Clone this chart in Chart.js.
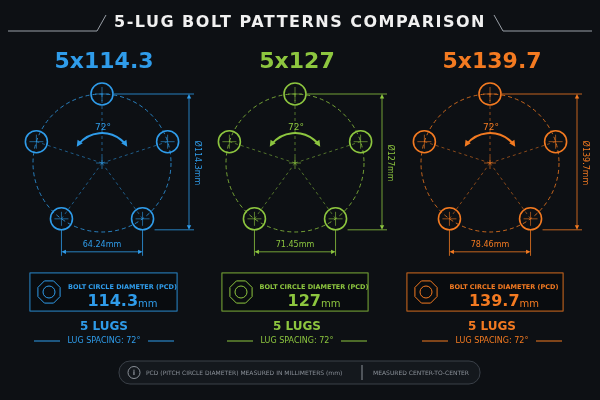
<!DOCTYPE html>
<html>
<head>
<meta charset="utf-8">
<script src="https://cdn.jsdelivr.net/npm/chart.js@4"></script>
<style>
  html, body { margin: 0; padding: 0; background: #0d1014; }
  canvas { display: block; }
</style>
</head>
<body>
<canvas id="chartjs-0" width="600" height="400"></canvas>
<script>
// pattern data
var patterns = ["5x114.3", "5x127", "5x139.7"];
var pcdValues = [114.3, 127, 139.7];
var chordValues = [64.24, 71.45, 78.46];
var lugCounts = [5, 5, 5];
var lugSpacing = [72, 72, 72];
var colors = ["#2f9cea", "#8dc63f", "#f37a21"];
var centerX = [102, 295, 490];

var CY = 163, R = 69;

// bolt centers follow the lug spacing around the drawn circle
function boltPoints(k) {
  var pts = [];
  for (var i = 0; i < lugCounts[k]; i++) {
    var a = (i * lugSpacing[k]) * Math.PI / 180;
    pts.push({ x: centerX[k] + R * Math.sin(a), y: CY - R * Math.cos(a) });
  }
  return pts;
}

var datasets = [];
for (var k = 0; k < 3; k++) {
  datasets.push({
    data: boltPoints(k),
    showLine: false,
    pointRadius: 11,
    pointBorderWidth: 1.6,
    pointBorderColor: colors[k],
    pointBackgroundColor: "rgba(0,0,0,0)"
  });
}

function arrow(ctx, x, y, ang, s) {
  ctx.beginPath();
  ctx.moveTo(x, y);
  ctx.lineTo(x - s * Math.cos(ang - 0.45), y - s * Math.sin(ang - 0.45));
  ctx.lineTo(x - s * Math.cos(ang + 0.45), y - s * Math.sin(ang + 0.45));
  ctx.closePath();
  ctx.fill();
}

var diagram = {
  id: "diagram",
  beforeDatasetsDraw: function (chart) {
    var ctx = chart.ctx, sx = chart.scales.x, sy = chart.scales.y;
    var px = function (v) { return sx.getPixelForValue(v); };
    var py = function (v) { return sy.getPixelForValue(v); };
    ctx.save();
    // header
    ctx.fillStyle = "#f0f0f0";
    ctx.font = "bold 16px 'DejaVu Sans'";
    ctx.textAlign = "center";
    ctx.textBaseline = "middle";
    if (ctx.letterSpacing !== undefined) ctx.letterSpacing = "1.5px";
    ctx.fillText("5-LUG BOLT PATTERNS COMPARISON", 300, 23);
    ctx.letterSpacing = "0px";
    ctx.strokeStyle = "#9aa0a8";
    ctx.lineWidth = 1;
    ctx.beginPath();
    ctx.moveTo(8, 31); ctx.lineTo(97, 31); ctx.lineTo(106, 15);
    ctx.moveTo(592, 31); ctx.lineTo(503, 31); ctx.lineTo(494, 15);
    ctx.stroke();

    for (var k = 0; k < 3; k++) {
      var c = colors[k], cx = px(centerX[k]), cy = py(CY);
      var pts = chart.getDatasetMeta(k).data;
      ctx.strokeStyle = c; ctx.fillStyle = c;
      // title
      ctx.font = "bold 22px 'DejaVu Sans'";
      ctx.fillText(patterns[k], cx + 2, 62);
      // dashed bolt circle
      ctx.globalAlpha = 0.8;
      ctx.setLineDash([4, 3]);
      ctx.lineWidth = 1;
      ctx.beginPath(); ctx.arc(cx, cy, R, 0, Math.PI * 2); ctx.stroke();
      // spokes
      ctx.globalAlpha = 0.55;
      ctx.setLineDash([3, 3]);
      ctx.beginPath();
      pts.forEach(function (p) { ctx.moveTo(cx, cy); ctx.lineTo(p.x, p.y); });
      ctx.stroke();
      ctx.setLineDash([]);
      // crosshairs
      ctx.globalAlpha = 0.6;
      ctx.beginPath();
      pts.forEach(function (p) {
        ctx.moveTo(p.x - 7, p.y); ctx.lineTo(p.x + 7, p.y);
        ctx.moveTo(p.x, p.y - 7); ctx.lineTo(p.x, p.y + 7);
      });
      ctx.moveTo(cx - 6, cy); ctx.lineTo(cx + 6, cy);
      ctx.moveTo(cx, cy - 6); ctx.lineTo(cx, cy + 6);
      ctx.stroke();
      ctx.globalAlpha = 1;
      // 72 degree arc
      ctx.lineWidth = 2;
      var a0 = -Math.PI / 2 - 1.0, a1 = -Math.PI / 2 + 1.0, ar = 30;
      ctx.beginPath(); ctx.arc(cx, cy, ar, a0 + 0.12, a1 - 0.12); ctx.stroke();
      arrow(ctx, cx + ar * Math.cos(a0), cy + ar * Math.sin(a0), a0 - Math.PI / 2, 7);
      arrow(ctx, cx + ar * Math.cos(a1), cy + ar * Math.sin(a1), a1 + Math.PI / 2, 7);
      ctx.font = "9px 'DejaVu Sans'";
      ctx.fillText(lugSpacing[k] + "°", cx + 1, cy - 35);
      // vertical dimension (PCD)
      ctx.lineWidth = 0.8;
      var top = pts[0], br = pts[2], bl = pts[3], dx = cx + 87;
      ctx.beginPath();
      ctx.moveTo(top.x + 12, top.y); ctx.lineTo(dx + 5, top.y);
      ctx.moveTo(br.x + 12, br.y + 11); ctx.lineTo(dx + 5, br.y + 11);
      ctx.moveTo(dx, top.y + 4); ctx.lineTo(dx, br.y + 7);
      ctx.stroke();
      arrow(ctx, dx, top.y, -Math.PI / 2, 5);
      arrow(ctx, dx, br.y + 11, Math.PI / 2, 5);
      ctx.save();
      ctx.translate(dx + 8, cy);
      ctx.rotate(Math.PI / 2);
      ctx.font = "8px 'DejaVu Sans'";
      ctx.fillText("Ø" + pcdValues[k] + "mm", 0, 0);
      ctx.restore();
      // horizontal dimension (bolt spacing)
      var hy = br.y + 33;
      ctx.beginPath();
      ctx.moveTo(bl.x, bl.y + 11); ctx.lineTo(bl.x, hy + 4);
      ctx.moveTo(br.x, br.y + 11); ctx.lineTo(br.x, hy + 4);
      ctx.moveTo(bl.x + 4, hy); ctx.lineTo(br.x - 4, hy);
      ctx.stroke();
      arrow(ctx, bl.x, hy, Math.PI, 5);
      arrow(ctx, br.x, hy, 0, 5);
      ctx.font = "8px 'DejaVu Sans'";
      ctx.fillText(chordValues[k] + "mm", cx, hy - 7);

      // info box
      var bx = [30, 222, 407][k], bw = [147, 146, 156][k];
      ctx.lineWidth = 1;
      ctx.strokeRect(bx, 273, bw, 38);
      ctx.fillStyle = "rgba(0,0,0,0.25)";
      ctx.fillRect(bx, 273, bw, 38);
      ctx.fillStyle = c;
      // octagon icon
      var ix = bx + 19, iy = 292;
      ctx.beginPath();
      for (var j = 0; j < 8; j++) {
        var t = Math.PI / 8 + j * Math.PI / 4;
        var fx = ix + 12 * Math.cos(t), fy = iy + 12 * Math.sin(t);
        if (j === 0) ctx.moveTo(fx, fy); else ctx.lineTo(fx, fy);
      }
      ctx.closePath(); ctx.stroke();
      ctx.beginPath(); ctx.arc(ix, iy, 6, 0, Math.PI * 2); ctx.stroke();
      var tx = bx + (bw + 30) / 2;
      ctx.font = "bold 6.5px 'DejaVu Sans'";
      ctx.fillText("BOLT CIRCLE DIAMETER (PCD)", tx + 4, 287);
      ctx.font = "bold 16px 'DejaVu Sans'";
      var vs = String(pcdValues[k]);
      var vw = ctx.measureText(vs).width;
      ctx.font = "10px 'DejaVu Sans'";
      var mw = ctx.measureText("mm").width;
      ctx.textAlign = "left";
      ctx.fillText("mm", tx + 4 - (vw + mw) / 2 + vw, 304);
      ctx.font = "bold 16px 'DejaVu Sans'";
      ctx.fillText(vs, tx + 4 - (vw + mw) / 2, 302);
      ctx.textAlign = "center";
      // lugs
      ctx.font = "bold 12px 'DejaVu Sans'";
      ctx.fillText(lugCounts[k] + " LUGS", cx + 2, 327);
      ctx.font = "8px 'DejaVu Sans'";
      ctx.fillText("LUG SPACING: " + lugSpacing[k] + "°", cx + 2, 341);
      ctx.beginPath();
      ctx.moveTo(cx - 68, 341); ctx.lineTo(cx - 42, 341);
      ctx.moveTo(cx + 46, 341); ctx.lineTo(cx + 72, 341);
      ctx.stroke();
    }
    // footer pill
    ctx.strokeStyle = "#3a4048"; ctx.fillStyle = "#14181d";
    ctx.lineWidth = 1;
    ctx.beginPath();
    ctx.roundRect(119, 361, 361, 23, 11);
    ctx.fill(); ctx.stroke();
    ctx.strokeStyle = "#8a9098";
    ctx.beginPath(); ctx.arc(134, 372.5, 6, 0, Math.PI * 2); ctx.stroke();
    ctx.beginPath(); ctx.moveTo(362, 365); ctx.lineTo(362, 380); ctx.stroke();
    ctx.fillStyle = "#8a9098";
    ctx.font = "bold 7px 'DejaVu Sans'";
    ctx.fillText("i", 134, 373);
    ctx.font = "6px 'DejaVu Sans'";
    ctx.textAlign = "left";
    ctx.fillText("PCD (PITCH CIRCLE DIAMETER) MEASURED IN MILLIMETERS (mm)", 146, 373);
    ctx.fillText("MEASURED CENTER-TO-CENTER", 373, 373);
    ctx.restore();
  }
};

new Chart(document.getElementById("chartjs-0"), {
  type: "scatter",
  data: { datasets: datasets },
  options: {
    responsive: false,
    animation: false,
    layout: { padding: 0, autoPadding: false },
    plugins: { legend: { display: false }, tooltip: { enabled: false } },
    scales: {
      x: { type: "linear", min: 0, max: 600, display: false },
      y: { type: "linear", min: 0, max: 400, reverse: true, display: false }
    }
  },
  plugins: [diagram]
});
</script>
</body>
</html>
